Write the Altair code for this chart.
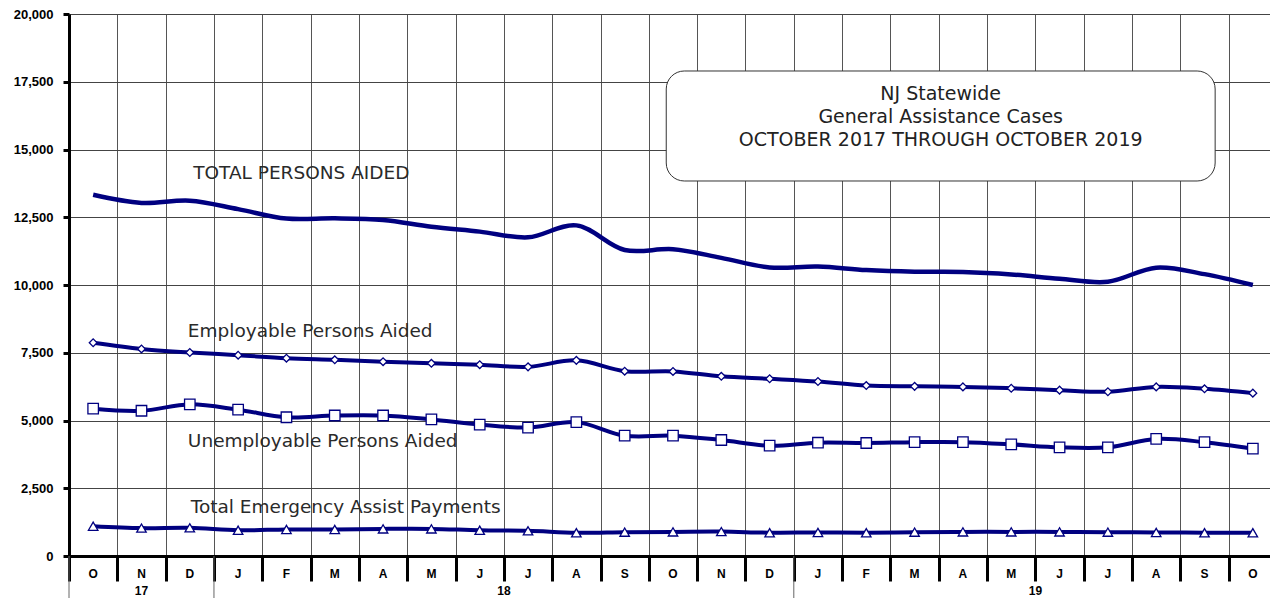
import altair as alt
import pandas as pd

# ---- data ----
months = ["O", "N", "D", "J", "F", "M", "A", "M", "J", "J", "A", "S", "O",
          "N", "D", "J", "F", "M", "A", "M", "J", "J", "A", "S", "O"]
years = ["17", "18", "19"]
year_start = [0, 3, 15]
year_end = [3, 15, 25]

total = [13330, 13030, 13110, 12800, 12450, 12460, 12400, 12150, 11970, 11760,
         12200, 11290, 11320, 11000, 10650, 10680, 10550, 10490, 10480, 10390,
         10230, 10120, 10640, 10400, 10000]
employable = [7870, 7640, 7510, 7410, 7300, 7240, 7170, 7110, 7060, 6980,
              7220, 6820, 6810, 6630, 6540, 6440, 6290, 6260, 6240, 6190,
              6120, 6060, 6240, 6170, 6010]
unemployable = [5435, 5360, 5595, 5400, 5120, 5185, 5185, 5040, 4850, 4740,
                4940, 4440, 4440, 4280, 4070, 4180, 4170, 4200, 4200, 4120,
                4010, 4010, 4320, 4200, 3960]
emergency = [1100, 1030, 1040, 950, 980, 980, 1000, 1000, 950, 930,
             860, 880, 890, 900, 860, 870, 860, 880, 890, 890,
             890, 880, 870, 860, 860]

series_labels = ["TOTAL PERSONS AIDED", "Employable Persons Aided",
                 "Unemployable Persons Aided", "Total Emergency Assist Payments"]
series_label_x = [2.57, 2.46, 2.46, 2.52]
series_label_y = [14133, 8303, 4244, 1808]

box_lines = ["NJ Statewide", "General Assistance Cases",
             "OCTOBER 2017 THROUGH OCTOBER 2019"]
box_line_y = [17048, 16199, 15351]
box_x = [12.36, 23.72]
box_y = [13838, 17897]

NAVY = "#000080"
W, H = 1208, 542

# ---- tables ----
def series_df(vals):
    return pd.DataFrame({"x": [i + 0.5 for i in range(len(vals))], "v": vals})

X = alt.X("x:Q", scale=alt.Scale(domain=[0, 25], nice=False, zero=False),
          axis=alt.Axis(values=list(range(26)), grid=True, labels=False,
                        ticks=True, tickSize=25, tickWidth=3, tickColor="black",
                        domain=True, domainWidth=3, domainColor="black",
                        gridColor="#555", gridWidth=1, title=None))
Y = alt.Y("v:Q", scale=alt.Scale(domain=[0, 20000], nice=False),
          axis=alt.Axis(values=list(range(0, 20001, 2500)),
                        labelExpr="format(datum.value, ',.0f')",
                        grid=True, gridColor="#444", gridWidth=1,
                        tickSize=6, tickWidth=3, tickColor="black",
                        domainWidth=3, domainColor="black",
                        labelFont="Liberation Sans", labelFontWeight="bold",
                        labelFontSize=13, labelColor="black", labelPadding=10,
                        title=None))

layers = []

# year separators in the axis table
yr_df = pd.DataFrame({"x": year_start + [25]})
layers.append(alt.Chart(yr_df).mark_rule(color="#666", strokeWidth=1).encode(
    x=X, y=alt.value(H), y2=alt.value(H + 50)))

def line_layer(vals, width=4):
    return alt.Chart(series_df(vals)).mark_line(
        interpolate="catmull-rom", color=NAVY, strokeWidth=width).encode(x=X, y=Y)

def point_layer(vals, shape, size):
    return alt.Chart(series_df(vals)).mark_point(
        shape=shape, filled=True, fill="white", stroke=NAVY, strokeWidth=1.3,
        size=size, opacity=1).encode(x=X, y=Y)

layers.append(line_layer(total, 4.5))
layers.append(line_layer(employable, 4))
layers.append(point_layer(employable, "diamond", 60))
layers.append(line_layer(unemployable, 4))
layers.append(point_layer(unemployable, "square", 110))
layers.append(line_layer(emergency, 4))
layers.append(point_layer(emergency, "triangle-up", 90))

# series labels
lab_df = pd.DataFrame({"x": series_label_x, "v": series_label_y, "t": series_labels})
layers.append(alt.Chart(lab_df).mark_text(
    align="left", baseline="middle", font="DejaVu Sans", fontSize=18.5,
    color="#2a2a2a").encode(x=X, y=Y, text="t:N"))

# title box
box_df = pd.DataFrame({"x": [box_x[0]], "x2": [box_x[1]],
                       "v": [box_y[0]], "v2": [box_y[1]]})
layers.append(alt.Chart(box_df).mark_rect(
    fill="white", stroke="#333", strokeWidth=1, cornerRadius=18).encode(
    x=X, x2="x2:Q", y=Y, y2="v2:Q"))
bl_df = pd.DataFrame({"x": [(box_x[0] + box_x[1]) / 2] * 3, "v": box_line_y, "t": box_lines})
layers.append(alt.Chart(bl_df).mark_text(
    align="center", baseline="middle", font="DejaVu Sans", fontSize=19,
    color="#222").encode(x=X, y=Y, text="t:N"))

# month labels
m_df = pd.DataFrame({"x": [i + 0.5 for i in range(len(months))], "t": months})
layers.append(alt.Chart(m_df).mark_text(
    align="center", baseline="middle", font="Liberation Sans", fontWeight="bold",
    fontSize=12, color="black").encode(x=X, y=alt.value(H + 18), text="t:N"))

# year labels
y_df = pd.DataFrame({"x": [(a + b) / 2 for a, b in zip(year_start, year_end)], "t": years})
layers.append(alt.Chart(y_df).mark_text(
    align="center", baseline="middle", font="Liberation Sans", fontWeight="bold",
    fontSize=12, color="black").encode(x=X, y=alt.value(H + 35), text="t:N"))

chart = alt.layer(*layers).properties(
    width=W, height=H,
    autosize=alt.AutoSizeParams(type="none"),
    padding={"left": 61, "top": 6, "right": -7, "bottom": 42},
    background="white",
).configure_view(stroke=None)

chart.save("out.html", embed_options={"renderer": "svg", "actions": False})
